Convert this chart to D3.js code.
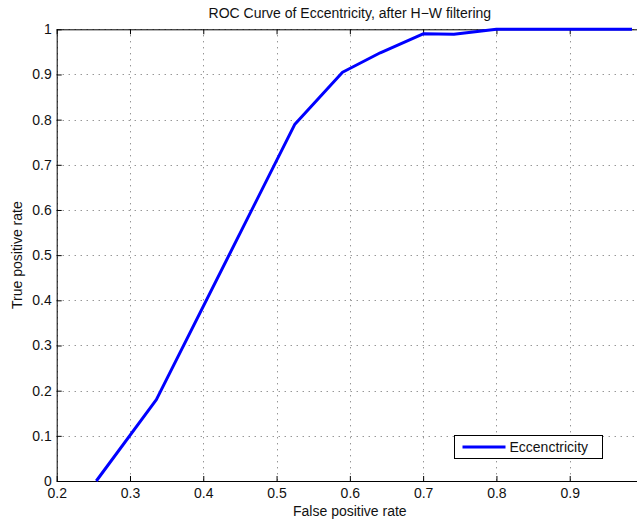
<!DOCTYPE html>
<html>
<head>
<meta charset="utf-8">
<script src="https://cdn.jsdelivr.net/npm/d3@7"></script>
<style>
  body { margin: 0; background: #fff; overflow: hidden; }
  svg { display: block; font-family: "Liberation Sans", Arial, sans-serif; }
</style>
</head>
<body>
<div id="chart"></div>
<script>
// ROC curve
var fpr = [0.254, 0.336, 0.525, 0.590, 0.6415, 0.700, 0.742, 0.800, 0.850, 0.900, 0.940, 0.960, 0.985];
var tpr = [0.000, 0.180, 0.790, 0.905, 0.948, 0.990, 0.989, 1.000, 1.000, 1.000, 1.000, 1.000, 1.000];
var xTicks = [0.2, 0.3, 0.4, 0.5, 0.6, 0.7, 0.8, 0.9, 1];
var yTicks = [0, 0.1, 0.2, 0.3, 0.4, 0.5, 0.6, 0.7, 0.8, 0.9, 1];
var seriesName = "Eccenctricity";

var width = 637, height = 521;
var pLeft = 56.7, pRight = 643, pTop = 29.3, pBottom = 481;
var fs = "14px";

var svg = d3.select("#chart").append("svg")
    .attr("width", width)
    .attr("height", height);

var x = d3.scaleLinear().domain([0.2, 1]).range([pLeft, pRight]);
var y = d3.scaleLinear().domain([0, 1]).range([pBottom, pTop]);

var fmtY = function(d) { return d === 0 ? "0" : d === 1 ? "1" : d3.format(".1f")(d); };
// the "1" label of the x axis falls outside the picture
var fmtX = function(d) { return d === 1 ? "" : d3.format(".1f")(d); };

// grid
var grid = svg.append("g").attr("stroke", "#444").attr("stroke-width", 1)
    .attr("stroke-dasharray", "1,5").attr("opacity", 0.8);
grid.selectAll(".gx").data(xTicks).enter().append("line")
    .attr("x1", function(d) { return Math.round(x(d)) + 0.5; })
    .attr("x2", function(d) { return Math.round(x(d)) + 0.5; })
    .attr("y1", pTop).attr("y2", pBottom);
grid.selectAll(".gy").data(yTicks).enter().append("line")
    .attr("y1", function(d) { return Math.round(y(d)) + 0.5; })
    .attr("y2", function(d) { return Math.round(y(d)) + 0.5; })
    .attr("x1", pLeft).attr("x2", pRight);

// axes
var xAxis = svg.append("g").attr("transform", "translate(0," + pBottom + ")")
    .call(d3.axisBottom(x).tickValues(xTicks).tickFormat(fmtX).tickSizeInner(-5).tickSizeOuter(0).tickPadding(6));
svg.append("g").attr("transform", "translate(0," + pTop + ")")
    .call(d3.axisTop(x).tickValues(xTicks).tickFormat("").tickSizeInner(-5).tickSizeOuter(0));
svg.append("g").attr("transform", "translate(" + pLeft + ",0)")
    .call(d3.axisLeft(y).tickValues(yTicks).tickFormat(fmtY).tickSizeInner(-5).tickSizeOuter(0).tickPadding(5));
svg.append("g").attr("transform", "translate(" + pRight + ",0)")
    .call(d3.axisRight(y).tickValues(yTicks).tickFormat("").tickSizeInner(-5).tickSizeOuter(0));

svg.selectAll(".domain, .tick line").attr("stroke", "#000").attr("stroke-width", 1);
svg.selectAll(".tick text").attr("fill", "#111").style("font-size", fs)
    .style("font-family", "'Liberation Sans', Arial, sans-serif");
xAxis.selectAll(".tick text").attr("dy", "0.8em");

// curve
var pts = fpr.map(function(d, i) { return [d, tpr[i]]; });
svg.append("path")
    .datum(pts)
    .attr("fill", "none")
    .attr("stroke", "#0000ff")
    .attr("stroke-width", 3)
    .attr("stroke-linejoin", "round")
    .attr("d", d3.line().x(function(d) { return x(d[0]); }).y(function(d) { return y(d[1]); }));

// labels
svg.append("text").attr("x", (pLeft + pRight) / 2).attr("y", 18)
    .attr("text-anchor", "middle").style("font-size", fs).attr("fill", "#111")
    .text("ROC Curve of Eccentricity, after H\u2212W filtering");
svg.append("text").attr("x", (pLeft + pRight) / 2).attr("y", 516)
    .attr("text-anchor", "middle").style("font-size", fs).attr("fill", "#111")
    .text("False positive rate");
svg.append("text")
    .attr("transform", "translate(22," + (pTop + pBottom) / 2 + ") rotate(-90)")
    .attr("text-anchor", "middle").style("font-size", fs).attr("fill", "#111")
    .text("True positive rate");

// legend
var lg = svg.append("g").attr("transform", "translate(454.5,435.5)");
lg.append("rect").attr("width", 148).attr("height", 23)
    .attr("fill", "#fff").attr("stroke", "#000").attr("stroke-width", 1);
lg.append("line").attr("x1", 8).attr("x2", 51).attr("y1", 11.5).attr("y2", 11.5)
    .attr("stroke", "#0000ff").attr("stroke-width", 3);
lg.append("text").attr("x", 55).attr("y", 16.5).style("font-size", fs).attr("fill", "#111")
    .text(seriesName);
</script>
</body>
</html>
